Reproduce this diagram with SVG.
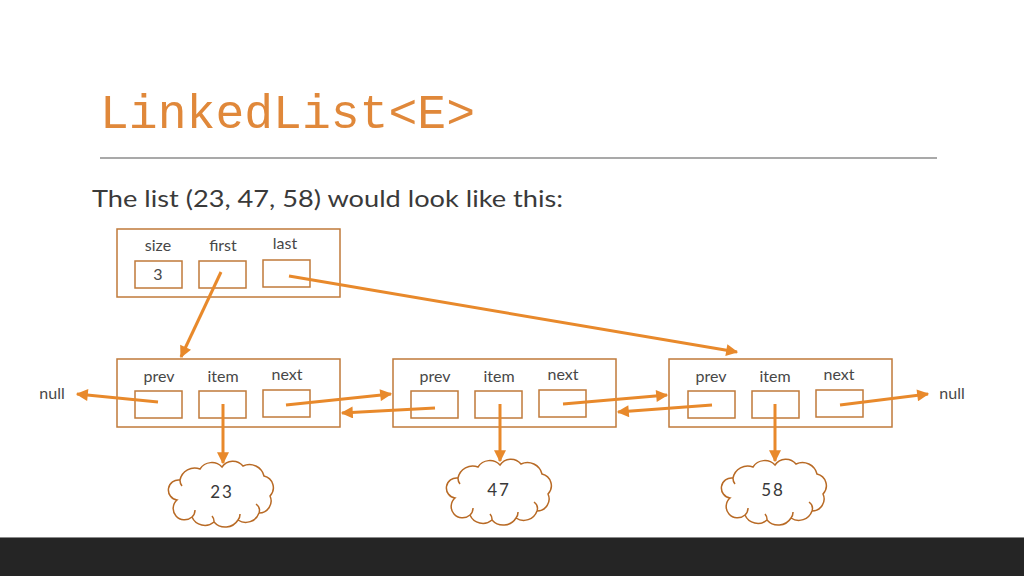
<svg xmlns="http://www.w3.org/2000/svg" width="1024" height="576" viewBox="0 0 1024 576">
  <style>
    .box { fill: #ffffff; stroke: #C07A3A; stroke-width: 1.5; }
    .fld { fill: #ffffff; stroke: #C07A3A; stroke-width: 1.5; }
    .lbl { font-family: Lato, "Open Sans", "Liberation Sans", sans-serif; font-size: 16px; fill: #474747; text-anchor: middle; }
    .val { font-family: Lato, "Open Sans", "Liberation Sans", sans-serif; font-size: 17px; fill: #383838; text-anchor: middle; letter-spacing: 2px; }
    .arr { stroke: #E8892B; stroke-width: 3; fill: none; marker-end: url(#ah); }
    .cloud { fill: #ffffff; stroke: #B86A25; stroke-width: 1.5; }
  </style>
  <defs>
    <marker id="ah" viewBox="0 0 10 10" refX="9" refY="5" markerWidth="13" markerHeight="12" markerUnits="userSpaceOnUse" orient="auto">
      <path d="M0,0 L10,5 L0,10 z" fill="#E8892B"/>
    </marker>
    <path id="cloudShape" d="M7,40 A10,10 0 0 1 10,20 A15,15 0 0 1 30,9 A14,14 0 0 1 52,7 A13,13 0 0 1 73,6 A15,15 0 0 1 94,16 A12,12 0 0 1 100,36 A12,12 0 0 1 89,53 A14,14 0 0 1 68,60 A15,15 0 0 1 44,62 A14,14 0 0 1 22,57 A9,9 0 0 1 7,40 Z M10,20 A9,9 0 0 0 12,26 M89,53 A8,8 0 0 0 86,44 M68,60 A9,9 0 0 0 70,54 M44,62 A8,8 0 0 0 42,56 M22,57 A9,9 0 0 0 25,50"/>
  </defs>

  <rect x="0" y="0" width="1024" height="576" fill="#ffffff"/>

  <g id="title">
    <text x="100" y="128" font-family="'Liberation Mono', 'DejaVu Sans Mono', monospace" font-size="48" fill="#E0883A" textLength="375" lengthAdjust="spacingAndGlyphs">LinkedList&lt;E&gt;</text>
    <line x1="100" y1="158" x2="937" y2="158" stroke="#555555" stroke-width="1.2"/>
    <text x="92" y="207" font-family="Lato, 'Open Sans', sans-serif" font-size="23" fill="#3a3a3a" textLength="471" lengthAdjust="spacingAndGlyphs">The list (23, 47, 58) would look like this:</text>
  </g>

  <g id="header">
    <rect class="box" x="117" y="229" width="223" height="68"/>
    <text class="lbl" x="158" y="251">size</text>
    <text class="lbl" x="223" y="251">first</text>
    <text class="lbl" x="285" y="249">last</text>
    <rect class="fld" x="135" y="261" width="47" height="27"/>
    <rect class="fld" x="199" y="261" width="47" height="27"/>
    <rect class="fld" x="263" y="260" width="47" height="27"/>
    <text class="lbl" x="158" y="280">3</text>
  </g>

  <g id="node1">
    <rect class="box" x="117" y="359" width="223" height="68"/>
    <text class="lbl" x="159" y="382">prev</text>
    <text class="lbl" x="223" y="382">item</text>
    <text class="lbl" x="287" y="380">next</text>
    <rect class="fld" x="135" y="391" width="47" height="27"/>
    <rect class="fld" x="199" y="391" width="47" height="27"/>
    <rect class="fld" x="263" y="390" width="47" height="27"/>
  </g>

  <g id="node2">
    <rect class="box" x="393" y="359" width="223" height="68"/>
    <text class="lbl" x="435" y="382">prev</text>
    <text class="lbl" x="499" y="382">item</text>
    <text class="lbl" x="563" y="380">next</text>
    <rect class="fld" x="411" y="391" width="47" height="27"/>
    <rect class="fld" x="475" y="391" width="47" height="27"/>
    <rect class="fld" x="539" y="390" width="47" height="27"/>
  </g>

  <g id="node3">
    <rect class="box" x="669" y="359" width="223" height="68"/>
    <text class="lbl" x="711" y="382">prev</text>
    <text class="lbl" x="775" y="382">item</text>
    <text class="lbl" x="839" y="380">next</text>
    <rect class="fld" x="688" y="391" width="47" height="27"/>
    <rect class="fld" x="752" y="391" width="47" height="27"/>
    <rect class="fld" x="816" y="390" width="47" height="27"/>
  </g>

  <g id="null-left">
    <text class="lbl" x="52" y="399">null</text>
  </g>
  <g id="null-right">
    <text class="lbl" x="952" y="399">null</text>
  </g>

  <g id="cloud1">
    <use href="#cloudShape" class="cloud" transform="translate(170,460)"/>
    <text class="val" x="222" y="498">23</text>
  </g>
  <g id="cloud2">
    <use href="#cloudShape" class="cloud" transform="translate(448,458)"/>
    <text class="val" x="499" y="496">47</text>
  </g>
  <g id="cloud3">
    <use href="#cloudShape" class="cloud" transform="translate(723,458)"/>
    <text class="val" x="773" y="496">58</text>
  </g>

  <g id="connectors">
    <line class="arr" x1="221" y1="272" x2="181" y2="357"/>
    <line class="arr" x1="289" y1="276" x2="737" y2="352"/>
    <line class="arr" x1="158" y1="402" x2="77" y2="394"/>
    <line class="arr" x1="286" y1="405" x2="391" y2="394"/>
    <line class="arr" x1="435" y1="408" x2="342" y2="413"/>
    <line class="arr" x1="563" y1="404" x2="667" y2="395"/>
    <line class="arr" x1="712" y1="405" x2="618" y2="412"/>
    <line class="arr" x1="840" y1="405" x2="928" y2="394"/>
    <line class="arr" x1="223" y1="404" x2="223" y2="463"/>
    <line class="arr" x1="500" y1="404" x2="500" y2="461"/>
    <line class="arr" x1="775" y1="404" x2="775" y2="461"/>
  </g>

  <g id="footer">
    <rect x="0" y="537" width="1024" height="39" fill="#252525"/>
    <line x1="0" y1="537.5" x2="1024" y2="537.5" stroke="#8a8a8a" stroke-width="1"/>
  </g>
</svg>
